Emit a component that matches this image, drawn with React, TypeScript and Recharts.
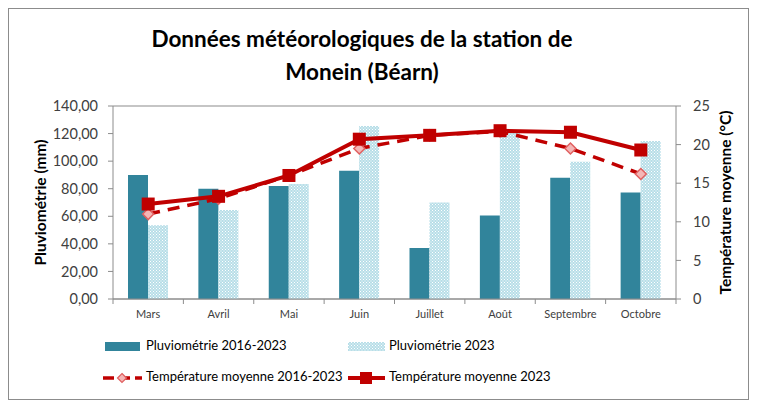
import React from 'react';
import { ComposedChart, Bar, Line, XAxis, YAxis, CartesianGrid } from 'recharts';

const months = ['Mars', 'Avril', 'Mai', 'Juin', 'Juillet', 'Août', 'Septembre', 'Octobre'];
const pluvio1623 = [90, 80, 82, 93, 37, 60.5, 88, 77.3];
const pluvio2023 = [53.5, 64.5, 83.5, 125.5, 70, 120.5, 99.5, 114.7];
const temp1623 = [11.0, 13.0, 16.0, 19.5, 21.2, 21.7, 19.5, 16.2];
const temp2023 = [12.3, 13.3, 16.0, 20.7, 21.2, 21.8, 21.6, 19.3];
const leftTicks = [0, 20, 40, 60, 80, 100, 120, 140];
const rightTicks = [0, 5, 10, 15, 20, 25];

const data = months.map((m, i) => ({
  month: m,
  p1623: pluvio1623[i],
  p2023: pluvio2023[i],
  t1623: temp1623[i],
  t2023: temp2023[i],
}));

const FONT = 'Lato, "Open Sans", sans-serif';
const RED = '#C00000';
const TEAL = '#31849B';
const GRID = '#8C8C8C';
const FRAME = '#8C8C8C';

const SquareDot = (props: any) => {
  const { cx, cy } = props;
  if (cx == null || cy == null) return null;
  return <rect x={cx - 6.5} y={cy - 6.5} width={13} height={13} fill={RED} />;
};

const DiamondDot = (props: any) => {
  const { cx, cy } = props;
  if (cx == null || cy == null) return null;
  const r = 5.5;
  return (
    <polygon
      points={`${cx},${cy - r} ${cx + r},${cy} ${cx},${cy + r} ${cx - r},${cy}`}
      fill="#F4B6B6"
      stroke="#E06060"
      strokeWidth={1.5}
    />
  );
};

const MonthTick = (props: any) => {
  const { x, y, payload, index, width, visibleTicksCount } = props;
  const band = width / visibleTicksCount;
  const axisY = y - 8;
  return (
    <g>
      <line x1={x - band / 2} y1={axisY} x2={x - band / 2} y2={axisY + 5} stroke={GRID} />
      {index === visibleTicksCount - 1 && (
        <line x1={x + band / 2} y1={axisY} x2={x + band / 2} y2={axisY + 5} stroke={GRID} />
      )}
      <text x={x} y={axisY + 16} textAnchor="middle" dominantBaseline="middle" fontSize={11} fill="#404040" fontFamily={FONT}>
        {payload.value}
      </text>
    </g>
  );
};

// legend drawn in page coordinates (wrapper is shifted by -8, -8)
const Legend = () => (
  <svg width={757} height={60} style={{ position: 'absolute', left: 0, top: 330 }}>
    <defs>
      <pattern id="dotsLegend" width={3} height={3} patternUnits="userSpaceOnUse">
        <rect width={3} height={3} fill="#B7DEE8" />
        <rect x={0} y={0} width={1} height={1} fill="#fff" />
        <rect x={1.5} y={1.5} width={1} height={1} fill="#fff" />
      </pattern>
    </defs>
    <rect x={105} y={12} width={35} height={9} fill={TEAL} />
    <text x={146} y={17} dominantBaseline="middle" fontSize={13} fontFamily={FONT} fill="#000">
      Pluviométrie 2016-2023
    </text>
    <rect x={348} y={12} width={37} height={9} fill="url(#dotsLegend)" />
    <text x={389} y={17} dominantBaseline="middle" fontSize={13} fontFamily={FONT} fill="#000">
      Pluviométrie 2023
    </text>
    <line x1={103} y1={48} x2={142} y2={48} stroke={RED} strokeWidth={3.5} strokeDasharray="11 5" />
    <polygon points="122,43.5 126.5,48 122,52.5 117.5,48" fill="#F4B6B6" stroke="#E06060" strokeWidth={1.2} />
    <text x={146} y={48} dominantBaseline="middle" fontSize={13} fontFamily={FONT} fill="#000">
      Température moyenne 2016-2023
    </text>
    <line x1={348} y1={48} x2={385} y2={48} stroke={RED} strokeWidth={4} />
    <rect x={360} y={42} width={12} height={12} fill={RED} />
    <text x={389} y={48} dominantBaseline="middle" fontSize={13} fontFamily={FONT} fill="#000">
      Température moyenne 2023
    </text>
  </svg>
);

export default function App() {
  return (
    <div style={{ position: 'relative', width: 741, height: 392, fontFamily: FONT }}>
      <div style={{ position: 'absolute', left: -8, top: -8, width: 757, height: 400 }}>
        <div
          style={{
            position: 'absolute',
            left: 0,
            top: 22,
            width: 724,
            textAlign: 'center',
            fontSize: 22.5,
            fontWeight: 'bold',
            lineHeight: '33px',
            color: '#000',
          }}
        >
          Données météorologiques de la station de
          <br />
          Monein (Béarn)
        </div>
        <div style={{ position: 'absolute', left: 0, top: 0 }}>
          <ComposedChart
            width={757}
            height={400}
            data={data}
            margin={{ top: 106, right: 21, bottom: 71, left: 53 }}
            barGap={0}
            barSize={20}
          >
            <defs>
              <pattern id="dots" width={3} height={3} patternUnits="userSpaceOnUse">
                <rect width={3} height={3} fill="#B7DEE8" />
                <rect x={0} y={0} width={1} height={1} fill="#fff" />
                <rect x={1.5} y={1.5} width={1} height={1} fill="#fff" />
              </pattern>
            </defs>
            <CartesianGrid vertical={false} stroke={GRID} strokeWidth={1.2} />
            <XAxis
              dataKey="month"
              height={30}
              axisLine={{ stroke: GRID }}
              tickLine={false}
              tick={<MonthTick />}
              interval={0}
            />
            <YAxis
              yAxisId="left"
              domain={[0, 140]}
              ticks={leftTicks}
              width={60}
              tickFormatter={(v: number) => v.toFixed(2).replace('.', ',')}
              axisLine={{ stroke: GRID }}
              tickLine={{ stroke: GRID }}
              tickSize={5}
              tickMargin={10}
              tick={{ fontSize: 14.5, fill: '#404040', fontFamily: FONT }}
              label={{
                value: 'Pluviométrie (mm)',
                angle: -90,
                position: 'insideLeft',
                offset: -13,
                style: { textAnchor: 'middle', fontSize: 15.5, fontWeight: 'bold', fill: '#000', fontFamily: FONT },
              }}
            />
            <YAxis
              yAxisId="right"
              orientation="right"
              domain={[0, 25]}
              ticks={rightTicks}
              width={60}
              axisLine={{ stroke: GRID }}
              tickLine={{ stroke: GRID }}
              tickSize={5}
              tickMargin={12}
              tick={{ fontSize: 14.5, fill: '#404040', fontFamily: FONT }}
              label={{
                value: 'Température moyenne (°C)',
                angle: -90,
                position: 'insideRight',
                offset: 11,
                style: { textAnchor: 'middle', fontSize: 15.5, fontWeight: 'bold', fill: '#000', fontFamily: FONT },
              }}
            />
            <Bar yAxisId="left" dataKey="p1623" fill={TEAL} isAnimationActive={false} />
            <Bar yAxisId="left" dataKey="p2023" fill="url(#dots)" isAnimationActive={false} />
            <Line
              yAxisId="right"
              dataKey="t1623"
              stroke={RED}
              strokeWidth={3.5}
              strokeDasharray="12 8"
              dot={<DiamondDot />}
              activeDot={false}
              isAnimationActive={false}
            />
            <Line
              yAxisId="right"
              dataKey="t2023"
              stroke={RED}
              strokeWidth={4}
              dot={<SquareDot />}
              activeDot={false}
              isAnimationActive={false}
            />
          </ComposedChart>
        </div>
        <Legend />
      </div>
      {/* frame, kept inside the root box */}
      <div style={{ position: 'absolute', left: 0, top: 0, width: 741, height: 1, background: FRAME }} />
      <div style={{ position: 'absolute', left: 0, top: 391, width: 741, height: 1, background: FRAME }} />
      <div style={{ position: 'absolute', left: 0, top: 0, width: 1, height: 392, background: FRAME }} />
      <div style={{ position: 'absolute', left: 740, top: 0, width: 1, height: 392, background: FRAME }} />
    </div>
  );
}
